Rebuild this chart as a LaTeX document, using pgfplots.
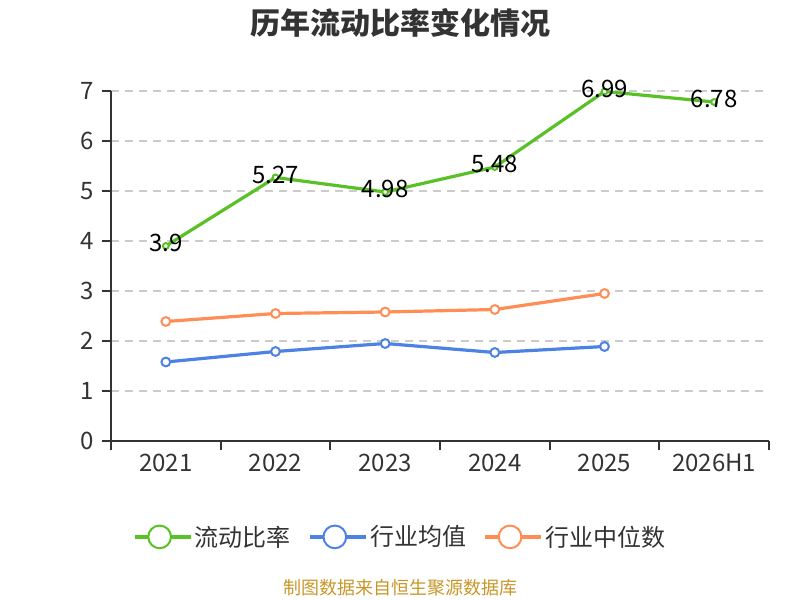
\documentclass[border=0pt]{standalone}
\usepackage{fontspec}
\setmainfont{Noto Sans CJK SC}
\usepackage{pgfplots}
\pgfplotsset{compat=1.18}
\definecolor{cgreen}{RGB}{88,193,38}
\definecolor{cblue}{RGB}{76,130,228}
\definecolor{corange}{RGB}{255,141,86}
\definecolor{ctext}{RGB}{51,51,51}
\definecolor{cgrid}{RGB}{204,204,204}
\definecolor{csrc}{RGB}{200,150,40}
\begin{document}
\begin{tikzpicture}[x=0.75pt,y=0.75pt]
\useasboundingbox (0,0) rectangle (800,600);
\begin{axis}[
  at={(83.25pt,119.25pt)}, anchor=south west,
  scale only axis, width=493.5pt, height=262.5pt,
  xmin=-0.5, xmax=5.5, ymin=0, ymax=7,
  axis x line=bottom, axis y line=left,
  axis line style={-, draw=ctext, line width=1.5pt},
  xtick={-0.5,0.5,1.5,2.5,3.5,4.5,5.5}, xticklabels={},
  extra x ticks={0,1,2,3,4,5},
  extra x tick labels={2021,2022,2023,2024,2025,2026H1},
  extra x tick style={major tick length=0pt, tick label style={yshift=-6pt}},
  ytick={0,1,2,3,4,5,6,7},
  ymajorgrids,
  grid style={draw=cgrid, line width=1.2pt, dash pattern=on 6pt off 4.5pt},
  tick align=outside,
  major tick length=6.75pt,
  tick style={draw=ctext, line width=1.5pt},
  ticklabel style={font=\fontsize{18}{20}\selectfont, text=ctext},
  yticklabel style={xshift=-2.25pt},
  /pgf/number format/assume math mode=true,
  legend columns=3,
  legend style={draw=none, fill=none, at={(0.44,-0.274)}, anchor=center,
    font=\fontsize{18}{20}\selectfont, text=ctext,
    /tikz/every even column/.append style={column sep=11pt}},
  legend cell align=left,
  legend image code/.code={
    \path (0pt,0pt) -- (42pt,0pt);
    \draw[line width=1.5pt] (0pt,0pt) -- (37.5pt,0pt);
    \draw[line width=1.5pt, fill=white] (18.75pt,0pt) circle (8.5pt);
  },
  clip=false,
]
\addplot[cgreen, line width=2.4pt, mark=*, mark size=2.2pt,
  mark options={fill=white, line width=1.5pt},
  nodes near coords,
  every node near coord/.append style={anchor=base, yshift=-4.5pt,
    font=\fontsize{18}{20}\selectfont, text=black}]
  coordinates {(0,3.9)(1,5.27)(2,4.98)(3,5.48)(4,6.99)(5,6.78)};
\addlegendentry{流动比率}
\addplot[cblue, line width=2.4pt, mark=*, mark size=3.3pt,
  mark options={fill=white, line width=1.5pt}]
  coordinates {(0,1.58)(1,1.79)(2,1.95)(3,1.77)(4,1.89)};
\addlegendentry{行业均值}
\addplot[corange, line width=2.4pt, mark=*, mark size=3.3pt,
  mark options={fill=white, line width=1.5pt}]
  coordinates {(0,2.39)(1,2.55)(2,2.58)(3,2.63)(4,2.95)};
\addlegendentry{行业中位数}
\end{axis}
\node[font=\bfseries\fontsize{22.5}{26}\selectfont, text=ctext] at (400,577) {历年流动比率变化情况};
\node[font=\fontsize{13.5}{15}\selectfont, text=csrc] at (400,12) {制图数据来自恒生聚源数据库};
\end{tikzpicture}
\end{document}
